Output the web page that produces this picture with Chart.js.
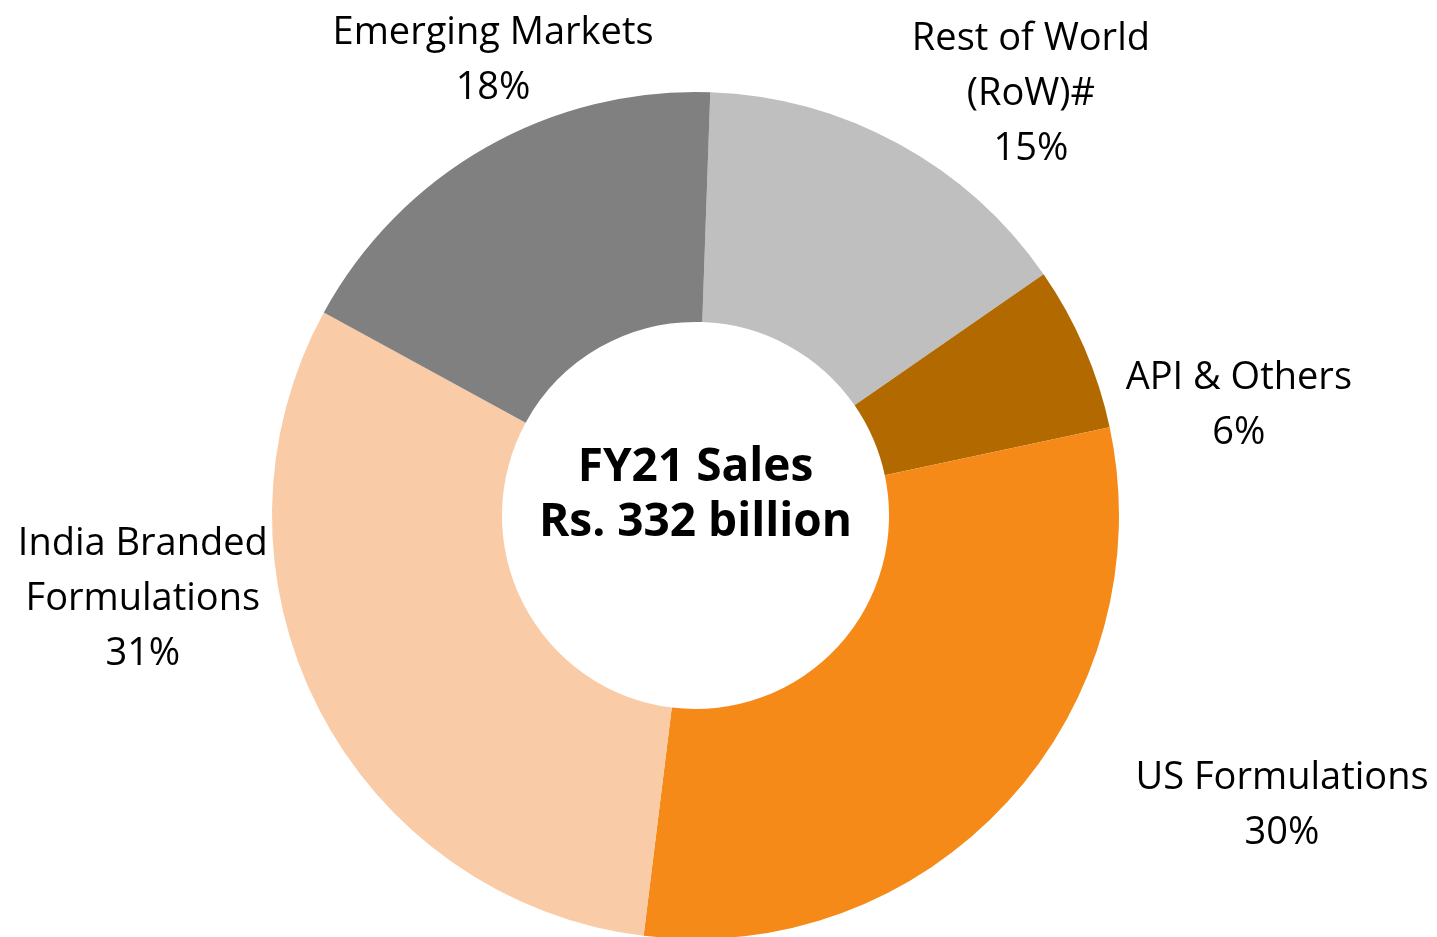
<!DOCTYPE html>
<html>
<head>
<meta charset="utf-8">
<title>FY21 Sales mix</title>
<script src="https://cdn.jsdelivr.net/npm/chart.js@4.4.1/dist/chart.umd.min.js"></script>
<style>
  html, body { margin: 0; padding: 0; background: #fff; overflow: hidden; }
  canvas { display: block; }
</style>
</head>
<body>
<canvas id="salesChart" width="1437" height="939"></canvas>
<script>
// segments, clockwise from 12 o'clock
const segments = ['Rest of World\n(RoW)#', 'API & Others', 'US Formulations', 'India Branded\nFormulations', 'Emerging Markets'];
const shares = [14.8, 6.3, 30.3, 31.0, 17.6];
const segmentColors = ['#BFBFBF', '#B26A00', '#F68A18', '#F9CBA6', '#808080'];
const centerTitle = ['FY21 Sales', 'Rs. 332 billion'];

// where each label block sits, as a multiple of the outer radius from the centre
const labelSpots = [
    [0.792, -0.994],
    [1.283, -0.260],
    [1.385, 0.685],
    [-1.305, 0.198],
    [-0.478, -1.074]
];

const FONT = '"Open Sans", "Noto Sans", sans-serif';

const labelPlugin = {
    id: 'outsideLabels',
    afterDraw(chart) {
        const ctx = chart.ctx;
        const arcs = chart.getDatasetMeta(0).data;
        const total = shares.reduce((a, b) => a + b, 0);
        ctx.save();
        ctx.fillStyle = '#000';
        ctx.textAlign = 'center';
        ctx.textBaseline = 'middle';

        ctx.font = '38px ' + FONT;
        arcs.forEach((arc, i) => {
            const lines = segments[i].split('\n');
            lines.push(Math.round(shares[i] / total * 100) + '%');
            const cx = arc.x + labelSpots[i][0] * arc.outerRadius;
            const cy = arc.y + labelSpots[i][1] * arc.outerRadius;
            const lh = 55;
            const top = cy - (lines.length - 1) * lh / 2;
            lines.forEach((t, k) => ctx.fillText(t, cx, top + k * lh));
        });

        // centre caption
        const a0 = arcs[0];
        ctx.font = 'bold 46px ' + FONT;
        ctx.fillText(centerTitle[0], a0.x, a0.y - 48);
        ctx.fillText(centerTitle[1], a0.x, a0.y + 7);
        ctx.restore();
    }
};

new Chart(document.getElementById('salesChart'), {
    type: 'doughnut',
    data: {
        labels: segments,
        datasets: [{
            data: shares,
            backgroundColor: segmentColors,
            borderWidth: 0,
            hoverOffset: 0
        }]
    },
    options: {
        responsive: false,
        animation: false,
        cutout: '45.7%',
        rotation: 2,
        layout: { padding: { top: 92, bottom: 0, left: 0, right: 46 } },
        plugins: {
            legend: { display: false },
            tooltip: { enabled: false }
        }
    },
    plugins: [labelPlugin]
});
</script>
</body>
</html>
